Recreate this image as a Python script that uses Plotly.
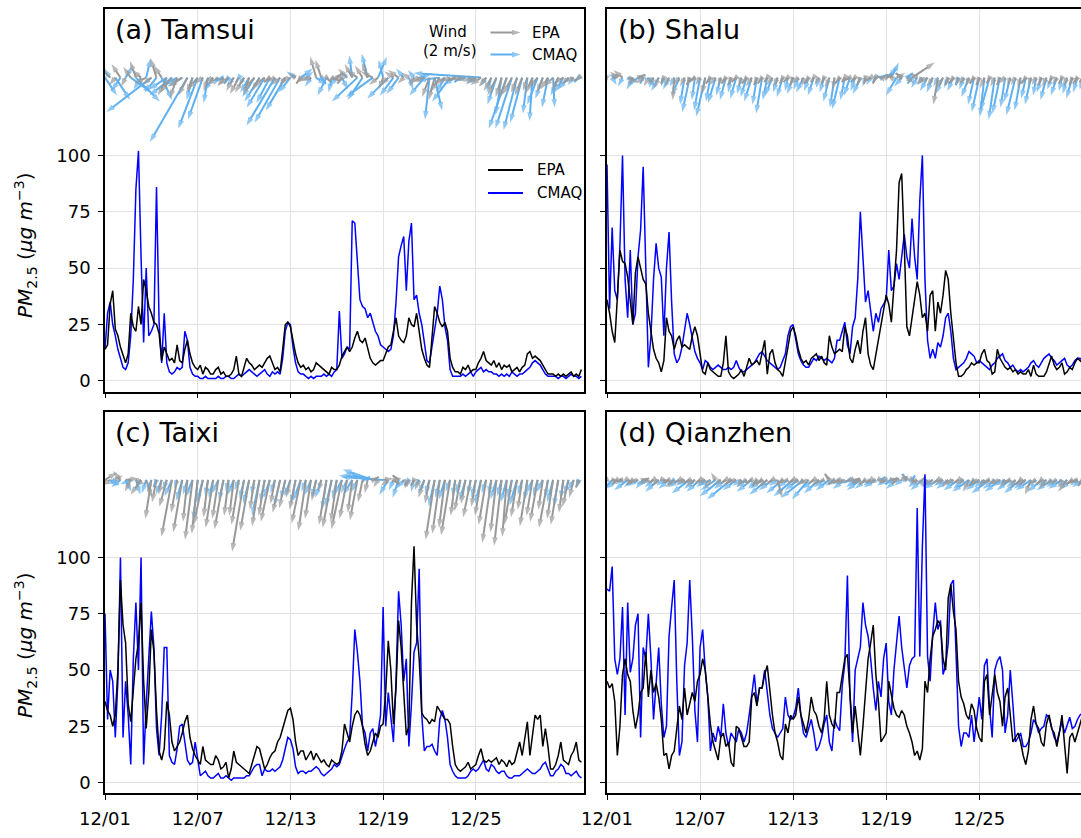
import numpy as np
import pandas as pd
import plotly.graph_objects as go

W, H = 1081, 838
FONT = "DejaVu Sans"
START = pd.Timestamp("2019-12-01")

# ---------------- PM2.5 (ug m-3), every 4 hours from 12/01 00:00 ----------------
TAMSUI_EPA = [
    14, 16, 34, 40, 23, 20, 15, 11, 8, 12, 30, 24, 22, 33, 25, 45, 40, 33,
    30, 26, 25, 21, 9, 15, 12, 9, 10, 8, 16, 9, 8, 14, 18, 12, 8, 6,
    5, 7, 3, 6, 5, 3, 3, 5, 6, 3, 4, 2, 2, 3, 5, 11, 3, 2,
    6, 10, 8, 7, 5, 6, 7, 6, 8, 10, 11, 8, 5, 6, 4, 14, 25, 26,
    24, 18, 12, 8, 6, 7, 5, 6, 4, 5, 8, 7, 6, 5, 4, 3, 6, 5,
    5, 7, 11, 13, 15, 13, 15, 19, 22, 18, 17, 19, 14, 10, 8, 7, 8, 9,
    9, 12, 15, 16, 22, 28, 20, 18, 17, 20, 28, 25, 24, 30, 22, 14, 10, 7,
    6, 20, 33, 30, 26, 24, 26, 22, 10, 6, 4, 4, 3, 6, 5, 7, 4, 5,
    5, 8, 10, 13, 9, 8, 7, 9, 6, 8, 5, 7, 6, 7, 4, 5, 6, 4,
    6, 7, 12, 13, 10, 11, 10, 9, 7, 5, 3, 3, 3, 2, 3, 2, 3, 2,
    3, 4, 2, 3, 2, 5]
TAMSUI_CMAQ = [
    14, 30, 35, 25, 20, 14, 10, 6, 5, 8, 20, 45, 85, 102, 55, 17, 50, 20,
    22, 25, 86, 26, 8, 30, 8, 4, 3, 4, 6, 5, 6, 22, 18, 6, 3, 2,
    2, 1, 1, 2, 1, 1, 1, 1, 2, 1, 1, 2, 2, 1, 1, 2, 3, 2,
    3, 4, 5, 4, 3, 2, 3, 4, 5, 3, 2, 4, 3, 4, 3, 10, 22, 26,
    25, 15, 8, 4, 3, 3, 2, 1, 2, 1, 2, 2, 2, 3, 2, 3, 2, 4,
    5, 31, 10, 12, 15, 14, 71, 70, 55, 36, 33, 32, 28, 30, 26, 22, 20, 16,
    15, 14, 13, 14, 20, 35, 55, 60, 64, 40, 62, 70, 36, 38, 30, 25, 18, 9,
    8, 15, 22, 30, 42, 36, 24, 18, 5, 2, 2, 2, 2, 3, 2, 3, 4, 2,
    4, 5, 6, 4, 5, 4, 4, 3, 3, 2, 3, 2, 3, 2, 4, 3, 2, 3,
    3, 4, 5, 6, 8, 9, 8, 7, 5, 3, 2, 2, 2, 2, 1, 2, 2, 1,
    2, 3, 2, 2, 1, 2]
SHALU_EPA = [
    36, 30, 22, 17, 37, 58, 53, 52, 46, 36, 25, 48, 55, 50, 45, 43, 30, 22,
    14, 10, 8, 4, 9, 28, 22, 20, 14, 18, 20, 15, 16, 15, 14, 20, 24, 20,
    12, 4, 3, 8, 5, 4, 3, 2, 2, 8, 20, 4, 2, 1, 2, 3, 5, 2,
    6, 10, 7, 8, 9, 7, 12, 18, 3, 12, 14, 8, 5, 4, 2, 8, 15, 22,
    24, 20, 14, 10, 8, 9, 7, 10, 11, 12, 9, 11, 8, 7, 20, 15, 12, 13,
    14, 13, 24, 20, 10, 8, 14, 18, 12, 22, 28, 12, 7, 5, 12, 18, 24, 32,
    38, 34, 26, 42, 58, 88, 92, 60, 24, 20, 28, 36, 44, 38, 28, 30, 22, 38,
    40, 22, 35, 30, 38, 49, 45, 30, 18, 8, 2, 2, 3, 5, 6, 8, 7, 8,
    8, 12, 14, 9, 8, 3, 4, 14, 10, 8, 6, 5, 6, 4, 5, 3, 4, 3,
    3, 5, 2, 7, 3, 2, 2, 2, 4, 8, 11, 7, 5, 6, 8, 3, 4, 6,
    5, 8, 10, 9, 8, 7]
SHALU_CMAQ = [
    96, 32, 68, 40, 36, 60, 100, 45, 28, 58, 25, 30, 55, 67, 95, 45, 6, 20,
    45, 61, 50, 46, 20, 50, 66, 35, 12, 8, 10, 15, 22, 30, 25, 18, 13, 10,
    8, 5, 9, 8, 6, 5, 6, 7, 6, 5, 5, 6, 5, 6, 9, 6, 4, 4,
    5, 6, 7, 8, 10, 12, 13, 11, 9, 8, 7, 6, 5, 6, 9, 12, 20, 24,
    25, 18, 12, 9, 7, 6, 6, 8, 10, 9, 11, 10, 9, 10, 9, 8, 10, 18,
    18, 22, 26, 16, 12, 24, 28, 45, 75, 55, 35, 40, 32, 22, 30, 26, 32, 34,
    36, 58, 40, 42, 52, 45, 55, 65, 55, 50, 72, 55, 45, 80, 100, 45, 18, 10,
    14, 10, 17, 15, 20, 28, 30, 22, 10, 5, 6, 7, 8, 10, 13, 12, 11, 8,
    9, 8, 7, 6, 5, 7, 8, 10, 11, 12, 9, 8, 6, 7, 5, 4, 5, 4,
    5, 6, 8, 9, 7, 6, 8, 10, 11, 12, 10, 9, 7, 8, 9, 10, 7, 6,
    7, 9, 10, 10, 9, 9]
TAIXI_EPA = [
    36, 32, 30, 25, 30, 50, 90, 70, 62, 35, 27, 40, 55, 62, 80, 45, 24, 40,
    68, 58, 32, 14, 10, 15, 36, 30, 18, 14, 16, 18, 22, 27, 30, 20, 15, 12,
    10, 8, 16, 10, 9, 8, 8, 12, 10, 6, 7, 9, 2, 6, 14, 9, 8, 7,
    6, 5, 4, 8, 12, 16, 15, 10, 6, 8, 11, 13, 14, 18, 20, 24, 28, 32,
    33, 28, 18, 12, 14, 14, 10, 12, 14, 10, 13, 11, 9, 10, 8, 7, 10, 9,
    8, 9, 14, 26, 22, 18, 25, 30, 32, 30, 25, 17, 12, 14, 18, 22, 20, 25,
    26, 40, 63, 50, 26, 42, 72, 60, 40, 21, 25, 80, 105, 70, 55, 31, 29, 28,
    26, 28, 27, 34, 32, 30, 28, 28, 26, 16, 8, 6, 5, 6, 7, 9, 6, 7,
    8, 12, 15, 10, 9, 10, 9, 10, 11, 8, 10, 9, 7, 10, 8, 9, 14, 18,
    12, 20, 27, 12, 22, 30, 28, 30, 16, 24, 16, 6, 6, 8, 12, 18, 10, 9,
    8, 12, 14, 18, 10, 9]
TAIXI_CMAQ = [
    75, 28, 50, 45, 20, 45, 100, 20, 45, 30, 8, 55, 80, 50, 100, 8, 35, 55,
    76, 60, 24, 12, 30, 60, 60, 12, 9, 8, 15, 25, 26, 18, 10, 8, 9, 18,
    10, 3, 4, 5, 3, 2, 2, 3, 4, 2, 2, 3, 2, 1, 2, 2, 2, 2,
    2, 3, 3, 5, 7, 8, 8, 3, 6, 5, 5, 6, 5, 6, 7, 10, 15, 20,
    19, 15, 7, 4, 5, 5, 4, 5, 5, 6, 7, 6, 4, 3, 4, 5, 6, 8,
    7, 8, 12, 15, 18, 20, 40, 68, 58, 45, 25, 22, 14, 22, 24, 16, 22, 30,
    78, 25, 40, 28, 18, 45, 85, 70, 45, 55, 16, 35, 58, 62, 95, 30, 14, 16,
    16, 17, 14, 12, 28, 32, 28, 20, 8, 5, 3, 2, 2, 2, 2, 3, 5, 6,
    5, 6, 8, 10, 6, 5, 8, 7, 5, 4, 5, 5, 3, 2, 2, 3, 3, 3,
    4, 5, 6, 5, 4, 4, 5, 6, 8, 9, 6, 3, 3, 5, 6, 8, 7, 4,
    4, 3, 4, 5, 3, 2]
QIANZHEN_EPA = [
    45, 42, 44, 36, 12, 25, 48, 55, 48, 45, 32, 24, 30, 40, 42, 58, 38, 50,
    40, 44, 38, 28, 12, 13, 6, 12, 14, 24, 34, 28, 42, 30, 35, 40, 36, 45,
    48, 55, 50, 38, 26, 18, 14, 10, 20, 22, 16, 18, 9, 7, 25, 24, 20, 16,
    16, 18, 38, 40, 34, 42, 42, 48, 52, 40, 30, 22, 18, 12, 10, 26, 22, 30,
    28, 30, 38, 30, 26, 22, 28, 38, 32, 30, 25, 22, 28, 45, 30, 26, 24, 40,
    40, 47, 55, 57, 38, 22, 34, 24, 12, 25, 40, 55, 62, 70, 48, 36, 18, 20,
    22, 45, 38, 33, 30, 29, 32, 30, 25, 22, 18, 12, 14, 10, 15, 45, 40, 55,
    65, 68, 72, 70, 55, 50, 82, 88, 76, 68, 45, 38, 35, 30, 28, 35, 32, 24,
    20, 18, 45, 48, 30, 40, 48, 40, 36, 25, 38, 42, 28, 18, 20, 22, 18, 12,
    8, 14, 28, 34, 26, 24, 18, 16, 26, 30, 24, 22, 16, 22, 30, 18, 4, 20,
    22, 18, 22, 26, 30, 32]
QIANZHEN_CMAQ = [
    86, 85, 96, 55, 48, 55, 78, 30, 80, 49, 55, 70, 75, 20, 60, 55, 75, 55,
    28, 45, 60, 35, 20, 25, 65, 78, 90, 45, 12, 18, 52, 62, 90, 65, 32, 18,
    60, 68, 50, 38, 14, 22, 18, 25, 20, 35, 22, 16, 22, 20, 18, 24, 22, 18,
    22, 30, 40, 48, 35, 42, 42, 50, 40, 30, 24, 22, 20, 22, 24, 38, 30, 28,
    29, 33, 42, 30, 22, 20, 24, 28, 22, 14, 16, 20, 26, 30, 18, 14, 28, 25,
    23, 43, 53, 92, 38, 18, 50, 55, 60, 80, 70, 65, 55, 42, 32, 45, 38, 55,
    62, 36, 30, 50, 64, 74, 60, 50, 42, 52, 55, 56, 122, 56, 105, 137, 56, 45,
    66, 80, 68, 72, 48, 52, 62, 88, 90, 58, 25, 16, 22, 22, 20, 30, 18, 28,
    38, 28, 52, 55, 33, 20, 50, 54, 56, 50, 22, 30, 50, 35, 18, 20, 22, 16,
    16, 18, 22, 28, 26, 22, 24, 25, 30, 29, 24, 20, 18, 22, 27, 22, 26, 29,
    24, 25, 28, 30, 31, 32]

# ---------------- wind (m/s), every 8 hours from 12/01 00:00 ----------------
TAMSUI_EPA_U = [-0.5, -0.8, -0.4, -0.6, -0.3, -0.5, -0.4, -0.6, -0.8, -0.6, -0.4, -0.5, -0.6, -0.8, -0.5, -0.9, -0.6, -0.4, -0.7, -0.5, -0.3, -0.6, -0.8, -0.4, -0.7, -0.5, -0.6, -0.6, -0.4, -0.7, -0.5, -0.8, -0.4, -0.5, -0.6, -0.4, -0.7, -0.5, -0.3, -0.5, -0.6, -0.4, -0.4, 0.3, 0.5, 0.4, -0.3, -0.6, -0.5, -0.7, -0.5, -0.4, -0.8, -0.6, -0.3, -0.5, -0.6, -0.7, -0.4, -0.5, -0.3, -0.6, -0.8, -0.5, -0.4, -0.7, -0.8, -0.6, -0.5, -0.6, -0.7, -0.5, -0.6, -0.7, -0.5, -0.5, -0.6, -0.4, -0.5, -0.6, -0.4, -0.5, -0.3, -0.5, -0.6, -0.4, -0.5, -0.6, -0.4, -0.7, -0.5, -0.6, -0.3]
TAMSUI_EPA_V = [1.0, 0.8, -0.5, 0.9, -0.6, 0.7, 1.1, 0.5, -0.4, -0.5, 1.3, 0.8, -1.2, -1.0, -1.4, -0.6, -1.2, -1.0, -0.8, -0.4, -0.9, -0.3, -0.5, -0.6, -0.5, -0.9, -1.1, -1.0, -1.2, -0.8, -0.9, -0.6, -0.3, -0.3, -0.5, -0.6, -0.2, 0.3, -0.4, -0.3, -0.2, 1.4, 1.2, -0.3, -0.2, 0.3, -0.4, 0.6, 0.9, 0.5, 0.8, 1.0, 0.4, -0.5, -0.8, -0.5, 0.4, 0.5, -0.4, 0.3, -0.6, -0.2, -0.3, -1.3, -1.5, -1.0, -0.5, -0.3, -0.2, -0.1, -0.2, -0.3, -0.4, -0.5, -0.6, -0.9, -1.2, -1.3, -1.4, -1.1, -1.0, -1.2, -0.9, -1.1, -0.7, -1.0, -0.8, -0.6, -0.9, -0.4, -0.5, -0.3, -0.2]
TAMSUI_CMAQ_U = [0.8, -0.4, 1.0, -0.6, 0.5, 1.4, 1.6, -0.5, 0.3, -3.0, -0.8, 0.7, -1.2, -1.5, -0.9, -1.0, -2.5, -0.4, -1.3, -1.0, -0.3, -0.6, -0.3, -0.5, -0.3, -0.5, -0.2, -0.4, -0.6, -0.8, -1.0, -1.2, -0.9, -1.9, -1.7, -1.3, -0.8, -0.6, 0.8, 0.5, -0.4, 0.7, 0.3, -0.6, -0.2, -0.5, 0.4, -0.5, -0.2, -1.7, -1.0, -0.4, -1.8, 0.6, -0.3, -1.4, -0.9, -0.8, -0.5, 0.3, -0.4, 0.9, -1.0, -0.3, 0.5, -1.5, -0.6, -1.2, -0.8, -0.4, -0.6, -0.3, -0.5, -4.5, -0.4, -0.3, -0.6, -0.4, -1.2, -1.1, -0.9, -0.8, -0.3, -0.2, -0.7, -0.5, -0.4, 0.1, -0.5, -0.6, -0.7, -0.4, -0.3]
TAMSUI_CMAQ_V = [-1.2, 0.6, -1.5, -0.9, 0.8, -1.0, -1.6, -0.8, 1.3, -2.3, -1.0, -1.5, -0.8, -1.2, -0.5, -0.6, -4.3, -1.5, -3.4, -2.8, -1.7, -0.9, -0.5, -0.2, -0.4, -0.6, -0.3, -0.6, -1.0, -1.3, -1.6, -2.0, -1.7, -3.2, -3.0, -2.2, -1.0, 0.4, 0.6, 0.4, -0.6, -0.5, -0.4, -1.2, -1.0, -0.6, -0.8, 0.4, 1.5, -1.6, -1.5, 1.6, -1.3, 1.4, 1.2, -1.4, -1.2, -1.1, 0.6, -0.8, 0.5, 0.3, -1.2, -2.8, -2.2, -0.2, -1.0, -1.6, -0.5, -0.3, -0.2, -0.5, -0.4, 0.3, -0.6, -1.0, -1.8, -2.5, -3.4, -3.4, -3.5, -3.0, -2.4, -2.9, -1.8, -1.4, -2.0, -2.0, -1.2, -1.0, -0.8, -0.5, -0.3]
SHALU_EPA_U = [-0.4, 0.6, -0.5, -0.6, 0.7, -0.3, 0.5, -0.5, -0.3, -0.4, -0.3, -0.2, -0.3, -0.1, -0.4, -0.3, -0.2, -0.4, -0.3, -0.2, -0.3, -0.4, -0.2, -0.3, -0.2, -0.3, -0.2, -0.3, -0.4, -0.2, -0.3, -0.2, -0.4, -0.3, -0.2, -0.3, -0.2, -0.4, -0.1, -0.3, -0.2, -0.3, -0.2, -0.3, -0.1, -0.3, -0.2, -0.4, -0.3, -0.2, -0.1, -0.3, -0.2, -0.3, 0.4, -0.3, 0.6, -0.4, 0.5, 1.5, -0.5, -0.4, -0.6, -0.4, -0.3, -0.5, -0.2, -0.3, -0.2, -0.3, -0.2, -0.3, -0.2, -0.3, -0.2, -0.3, -0.2, -0.4, -0.2, -0.3, -0.2, -0.3, -0.2, -0.3, -0.2, -0.3, -0.2, -0.3, -0.2, -0.3, -0.2, -0.3, -0.2]
SHALU_EPA_V = [0.3, 0.2, 0.4, 0.5, -0.3, -0.5, 0.2, -0.4, -0.6, -0.5, -0.7, -0.4, -0.6, -1.5, -0.5, -0.6, -0.5, -0.3, -0.5, -1.1, -0.4, -0.5, -0.6, -0.4, -0.5, -0.3, -0.6, -0.4, -0.6, -0.5, -0.4, -0.3, -0.5, -0.6, -0.4, -0.3, -0.5, -0.4, -0.6, -0.4, -0.3, -0.5, -0.4, -0.7, -0.8, -0.4, -0.3, -0.2, -0.3, -0.5, -0.4, -0.2, -0.4, 0.1, 0.2, 0.2, 0.3, 0.3, -0.4, 1.0, 0.3, -0.5, -0.4, -0.6, -1.8, -0.7, -0.5, -0.4, -0.6, -0.5, -0.6, -0.4, -0.5, -0.7, -0.4, -0.6, -0.5, -0.4, -0.6, -0.5, -0.7, -0.4, -0.6, -0.5, -0.5, -0.6, -0.4, -0.5, -0.4, -0.6, -0.5, -0.4, -0.3]
SHALU_CMAQ_U = [-0.5, 0.3, -0.6, -0.3, 0.5, -0.4, -0.6, -0.2, 0.4, -0.3, -0.5, -0.2, -0.4, -0.3, -0.5, -0.3, -0.5, -0.2, -0.4, -0.6, -0.3, -0.5, -0.3, -0.4, -0.2, -0.4, -0.3, -0.4, -0.5, -0.3, -0.4, -0.3, -0.5, -0.3, -0.4, -0.2, -0.4, -0.3, -0.5, -0.3, -0.4, -0.2, -0.3, -0.4, -0.3, -0.5, -0.3, -0.4, -0.3, -0.5, -0.2, -0.3, -0.2, 0.4, 0.8, 0.5, -0.7, -0.5, 0.4, -0.3, -0.4, -0.3, -0.5, -0.4, -0.3, -0.5, -0.3, -0.4, -0.2, -0.3, -0.5, -0.4, -0.5, -0.3, -0.6, -0.4, -0.5, -0.3, -0.4, -0.6, -0.4, -0.3, -0.4, -0.2, -0.3, -0.4, -0.3, -0.4, -0.2, -0.3, -0.4, -0.3, -0.2]
SHALU_CMAQ_V = [-0.3, -0.5, 0.2, -0.6, -0.3, -0.8, -0.5, -0.4, -0.6, -0.7, -0.9, -0.6, -0.8, -0.6, -1.2, -1.8, -2.3, -1.5, -2.2, -2.6, -1.6, -1.7, -1.2, -1.5, -1.0, -1.4, -1.1, -1.3, -1.6, -1.8, -2.4, -1.5, -1.2, -1.0, -1.3, -0.9, -1.1, -0.8, -1.0, -0.9, -1.2, -0.7, -1.0, -1.6, -2.0, -2.1, -1.5, -1.2, -0.9, -1.1, -0.6, -0.5, -0.3, 0.2, 0.7, 1.0, -1.2, -0.6, 0.3, -0.4, -0.7, -0.5, -0.9, -1.0, -0.6, -1.1, -0.7, -0.9, -0.5, -0.8, -1.3, -1.8, -2.3, -2.6, -2.2, -2.8, -2.4, -2.0, -1.6, -2.5, -2.2, -1.4, -1.8, -1.2, -1.0, -1.5, -0.8, -1.2, -0.9, -1.1, -1.4, -1.0, -0.8]
TAIXI_EPA_U = [0.8, -0.6, 0.5, -0.5, 0.9, -0.4, 0.6, -0.7, 0.4, -0.4, -0.3, -0.2, -0.5, -0.7, -0.4, -0.6, -0.3, -0.5, -0.4, -0.6, -0.3, -0.5, -0.4, -0.6, -0.3, -0.3, -0.5, -0.8, -0.6, -0.3, -0.5, -0.4, -0.6, -0.3, -0.5, -0.4, -0.3, -0.4, -0.6, -0.5, -0.4, -0.3, -0.2, -0.5, -0.6, -0.4, -0.7, -0.5, -0.3, -0.5, -0.3, -0.2, 0.4, -0.3, 0.7, -0.5, 0.4, -0.4, 0.3, -0.3, -0.2, -0.3, -0.4, -0.3, -0.6, -0.5, -0.4, -0.6, -0.3, -0.4, -0.3, -0.5, -0.3, -0.4, -0.5, -0.6, -0.4, -0.5, -0.3, -0.5, -0.4, -0.3, -0.5, -0.4, -0.5, -0.3, -0.6, -0.4, -0.5, -0.3, -0.4, -0.3, -0.2]
TAIXI_EPA_V = [0.5, -0.4, 0.3, 0.6, 0.1, -0.8, -0.3, -1.0, -1.2, -2.6, -1.5, -1.0, -1.8, -3.8, -2.2, -3.5, -2.8, -4.0, -3.6, -3.0, -2.5, -3.2, -2.6, -3.3, -2.4, -2.4, -3.0, -4.8, -3.4, -2.0, -3.1, -2.4, -2.8, -1.6, -2.2, -1.9, -1.2, -2.0, -2.9, -3.4, -2.6, -1.4, -0.8, -3.0, -3.2, -2.8, -3.3, -2.6, -2.2, -2.7, -1.5, -0.9, 0.2, -0.5, 0.1, -0.4, -0.3, 0.3, -0.5, -0.6, -0.4, -0.7, -1.2, -1.6, -4.0, -3.6, -3.2, -3.7, -2.4, -2.1, -1.6, -2.5, -1.8, -2.4, -3.0, -4.2, -3.5, -4.4, -3.8, -3.0, -2.5, -2.0, -3.1, -2.4, -2.8, -2.0, -3.2, -2.6, -3.0, -2.2, -1.8, -1.2, -0.6]
TAIXI_CMAQ_U = [-0.8, 0.6, -0.5, -0.6, 0.4, -0.7, 0.3, -0.4, -0.3, -0.3, -0.2, -0.4, -0.3, -0.5, -0.2, -0.4, -0.3, -0.5, -0.3, -0.4, -0.2, -0.3, -0.4, -0.3, -0.2, -0.4, -0.3, -0.3, -0.4, -0.2, -0.5, -0.3, -0.4, -0.3, -0.4, -0.3, -0.4, -0.3, -0.5, -0.3, -0.4, -0.3, -0.4, -0.3, -0.4, -0.3, -0.5, -0.4, -0.6, -0.4, 0.5, -1.5, -2.0, -2.6, -2.8, -0.6, -0.3, -0.4, -0.5, -0.3, -0.2, -0.3, -0.4, -0.3, -0.4, -0.3, -0.4, -0.3, -0.2, -0.3, -0.4, -0.2, -0.3, -0.4, -0.3, -0.2, -0.4, -0.3, -0.4, -0.3, -0.5, -0.3, -0.2, -0.4, -0.3, -0.4, -0.2, -0.4, -0.3, -0.2, -0.3, -0.4, -0.2]
TAIXI_CMAQ_V = [-0.6, -0.4, -0.3, -0.5, -0.8, -0.3, -1.0, -0.6, -0.9, -0.8, -0.5, -1.0, -0.7, -1.1, -0.6, -1.4, -1.0, -1.2, -2.7, -1.5, -1.1, -1.2, -0.9, -1.4, -0.8, -1.0, -0.7, -1.3, -1.6, -1.0, -2.4, -1.5, -1.2, -0.9, -1.8, -1.3, -1.1, -1.6, -1.4, -0.8, -1.0, -1.2, -1.2, -2.0, -1.8, -1.3, -1.0, -0.9, -1.0, -0.8, 0.2, 0.5, 0.7, 0.3, 0.2, -1.0, -0.7, -1.2, -0.6, -0.4, -0.8, -0.5, -0.9, -1.0, -1.8, -1.2, -1.3, -0.8, -1.1, -0.9, -1.4, -1.0, -1.2, -1.6, -0.9, -1.0, -1.3, -1.1, -1.5, -1.2, -1.7, -1.0, -1.4, -0.9, -1.1, -0.8, -1.2, -1.5, -1.8, -1.3, -1.0, -0.7, -0.5]
QIANZHEN_EPA_U = [-0.4, 0.5, -0.3, -0.5, 0.3, -0.4, -0.6, 0.4, -0.5, -0.3, -0.5, 0.3, -0.4, -0.6, -0.3, -0.5, -0.4, -0.6, -0.3, -0.5, -0.4, -0.3, -0.5, -0.3, -0.4, -0.6, -0.3, -0.5, -0.4, -0.3, -0.4, -0.6, -0.3, 0.3, -0.4, -0.5, -0.3, -0.5, -0.4, -0.6, -0.3, -0.5, -0.5, -0.3, -0.4, -0.4, -0.6, -0.3, 0.3, -0.5, -0.4, -0.3, -0.5, 0.3, -0.4, 0.5, -0.3, 0.5, -0.4, 0.3, -0.5, 0.2, -0.4, -0.6, -0.3, -0.5, -0.4, -0.6, -0.3, -0.5, -0.4, -0.3, -0.6, -0.4, -0.5, -0.4, -0.6, -0.3, -0.5, -0.4, -0.3, -0.6, -0.4, -0.5, -0.3, -0.5, -0.4, -0.5, -0.3, -0.6, -0.4, -0.5, -0.3]
QIANZHEN_EPA_V = [-0.2, -0.1, -0.3, -0.1, -0.2, -0.3, -0.2, 0.1, -0.3, -0.2, -0.4, -0.1, -0.2, -0.5, -0.2, -0.3, -0.2, -0.4, -0.2, -0.3, -0.6, 0.5, -0.4, -0.2, -0.3, -0.2, -0.5, -0.3, -0.2, -0.4, -0.3, -0.5, -0.2, -1.2, -0.3, -0.2, -0.2, -0.3, -0.4, -0.3, -0.2, -0.4, -0.2, 0.4, -0.3, -0.2, -0.3, -0.1, 0.1, -0.2, -0.3, -0.2, -0.3, -0.1, -0.2, 0.1, -0.3, 0.3, 0.4, -0.2, -0.3, 0.2, -0.5, -0.4, -0.2, -0.3, -0.5, -0.3, -0.2, -0.3, -0.8, -0.4, -0.3, -0.5, -0.2, -0.4, -0.3, -0.5, -0.2, -0.6, -0.3, -0.4, -1.0, -0.3, -0.3, -0.6, -0.4, -0.3, -0.5, -0.8, -0.3, -0.2, -0.4]
QIANZHEN_CMAQ_U = [-0.6, -1.0, -0.8, -0.5, -0.9, -0.6, -0.7, -0.5, -0.8, -0.6, -0.9, -0.5, -0.7, -0.4, -0.8, -0.6, -1.2, -0.7, -0.9, -0.6, -0.8, -1.0, -1.4, -0.8, -1.6, -0.9, -0.6, -0.7, -1.0, -0.6, -0.8, -1.2, -0.9, -0.6, -1.1, -0.7, -1.3, -0.9, -1.5, -1.1, -0.8, -1.0, -0.7, -0.9, -0.6, -0.5, -0.8, -0.4, -0.6, -0.9, -0.7, -0.5, -0.8, 0.3, -0.6, -0.4, -0.7, -0.5, -0.3, 0.2, -0.6, -0.8, -0.5, -0.7, -0.9, -0.6, -0.8, -0.5, -1.0, -0.7, -1.1, -0.6, -0.9, -0.7, -1.2, -0.8, -1.0, -0.7, -0.9, -0.6, -1.1, -0.8, -1.0, -0.7, -0.9, -0.6, -1.0, -0.7, -0.9, -0.6, -0.8, -0.5, -0.7]
QIANZHEN_CMAQ_V = [-0.4, -1.1, -0.6, -0.3, -0.7, -0.5, -0.4, -0.6, -0.3, -0.5, -0.8, -0.4, -0.6, -0.3, -0.5, -0.4, -0.9, -0.6, -0.8, -0.5, -0.4, -0.7, -1.1, -0.6, -1.3, -0.7, -0.4, -0.5, -0.8, -0.6, -0.6, -1.0, -0.7, -0.4, -0.9, -0.5, -1.1, -0.7, -1.2, -1.3, -0.6, -0.9, -0.5, -0.7, -0.4, -0.3, -0.6, -0.2, -0.5, -0.7, -0.6, -0.4, -0.5, 0.2, -0.4, -0.3, -0.6, -0.4, 0.4, 0.3, -0.5, -0.7, -0.4, -0.5, -0.6, -0.4, -0.6, -0.4, -0.7, -0.6, -0.8, -0.5, -0.7, -0.5, -0.9, -0.6, -0.8, -0.4, -0.7, -0.5, -0.9, -0.6, -0.7, -0.5, -0.8, -0.4, -0.7, -0.5, -0.6, -0.5, -0.6, -0.4, -0.5]

STATIONS = ["(a) Tamsui", "(b) Shalu", "(c) Taixi", "(d) Qianzhen"]
PM_EPA = [TAMSUI_EPA, SHALU_EPA, TAIXI_EPA, QIANZHEN_EPA]
PM_CMAQ = [TAMSUI_CMAQ, SHALU_CMAQ, TAIXI_CMAQ, QIANZHEN_CMAQ]
WIND_EPA = [(TAMSUI_EPA_U, TAMSUI_EPA_V), (SHALU_EPA_U, SHALU_EPA_V),
            (TAIXI_EPA_U, TAIXI_EPA_V), (QIANZHEN_EPA_U, QIANZHEN_EPA_V)]
WIND_CMAQ = [(TAMSUI_CMAQ_U, TAMSUI_CMAQ_V), (SHALU_CMAQ_U, SHALU_CMAQ_V),
             (TAIXI_CMAQ_U, TAIXI_CMAQ_V), (QIANZHEN_CMAQ_U, QIANZHEN_CMAQ_V)]
TICK_DATES = ["2019-12-01", "2019-12-07", "2019-12-13", "2019-12-19", "2019-12-25"]

for s in PM_EPA + PM_CMAQ:
    assert len(s) == 186, len(s)
for u, v in WIND_EPA + WIND_CMAQ:
    assert len(u) == 93 and len(v) == 93, (len(u), len(v))

pm_times = START + pd.to_timedelta(np.arange(186) * 4, unit="h")
wind_times = START + pd.to_timedelta(np.arange(93) * 8, unit="h")

# ---------------- styling ----------------
C_EPA_LINE, C_CMAQ_LINE = "black", "#0000ff"
C_EPA_WIND, C_CMAQ_WIND = "#999999", "#5fb0f0"
GRID = "#e2e2e2"
Y_RANGE = [-4.8, 164.8]
ARROW_BASE = 134.5      # axis level where the wind arrows start
DAYS_PER_MS = 0.97      # horizontal arrow extent per 1 m/s (days)
UNITS_PER_MS = 6.65     # vertical arrow extent per 1 m/s (axis units)


def quiver(times, u, v, base, color, xa, ya):
    xs, ys, sizes = [], [], []
    for t, uu, vv in zip(times, u, v):
        xs += [t, t + pd.Timedelta(days=uu * DAYS_PER_MS), None]
        ys += [base, base + vv * UNITS_PER_MS, None]
        sizes += [0, 9, 0]
    return go.Scatter(
        x=xs, y=ys, xaxis=xa, yaxis=ya, mode="lines+markers",
        line=dict(color=color, width=2),
        marker=dict(symbol="arrow", angleref="previous", size=sizes,
                    color=color, line=dict(width=0)),
        hoverinfo="skip", showlegend=False)


def px_x(p):
    return p / W


def px_y(p):
    return 1 - p / H


fig = go.Figure()
axis_ids = [("x", "y"), ("x2", "y2"), ("x3", "y3"), ("x4", "y4")]
for i, (xa, ya) in enumerate(axis_ids):
    (ue, ve), (uc, vc) = WIND_EPA[i], WIND_CMAQ[i]
    fig.add_trace(quiver(wind_times, uc, vc, ARROW_BASE, C_CMAQ_WIND, xa, ya))
    fig.add_trace(quiver(wind_times, ue, ve, ARROW_BASE, C_EPA_WIND, xa, ya))
    fig.add_trace(go.Scatter(x=pm_times, y=PM_CMAQ[i], xaxis=xa, yaxis=ya, mode="lines",
                             line=dict(color=C_CMAQ_LINE, width=1.5), showlegend=False))
    fig.add_trace(go.Scatter(x=pm_times, y=PM_EPA[i], xaxis=xa, yaxis=ya, mode="lines",
                             line=dict(color=C_EPA_LINE, width=1.5), showlegend=False))

# wind key arrows (2 m/s) in panel (a)
key_t = [START + pd.Timedelta(days=24.95)]
fig.add_trace(quiver(key_t, [2.0], [0.0], 154.5, C_EPA_WIND, "x", "y"))
fig.add_trace(quiver(key_t, [2.0], [0.0], 144.7, C_CMAQ_WIND, "x", "y"))

X_DOM = {"l": [105 / W, 584 / W], "r": [607 / W, 1.0]}
Y_DOM = {"t": [px_y(391.7), px_y(9.3)], "b": [px_y(793.3), px_y(411.7)]}
X_END = {"l": 31.0, "r": 30.56}

tickfont = dict(family=FONT, size=18, color="black")


def xaxis(col, row, anchor):
    return dict(domain=X_DOM[col], anchor=anchor, type="date", automargin=False,
                range=[START, START + pd.Timedelta(days=X_END[col])],
                tickmode="array", tickvals=TICK_DATES, tickformat="%m/%d",
                showticklabels=(row == "b"), ticks="outside", ticklen=5,
                tickwidth=1.2, tickcolor="black", showgrid=True,
                gridcolor=GRID, gridwidth=1.2, showline=True, linecolor="black",
                linewidth=1.5, mirror=True, zeroline=False, tickfont=tickfont,
                ticklabelstandoff=3)


def yaxis(col, row, anchor):
    return dict(domain=Y_DOM[row], anchor=anchor, range=Y_RANGE, automargin=False,
                tickvals=[0, 25, 50, 75, 100], showticklabels=(col == "l"),
                ticks="outside", ticklen=5, tickwidth=1.2, tickcolor="black",
                showgrid=True, gridcolor=GRID, gridwidth=1.2, showline=True,
                linecolor="black", linewidth=1.5, mirror=(col == "l"),
                zeroline=False, tickfont=tickfont, ticklabelstandoff=4)


layout = dict(
    width=W, height=H, margin=dict(l=0, r=0, t=0, b=0, autoexpand=False),
    paper_bgcolor="white", plot_bgcolor="white", showlegend=False,
    xaxis=xaxis("l", "t", "y"), yaxis=yaxis("l", "t", "x"),
    xaxis2=xaxis("r", "t", "y2"), yaxis2=yaxis("r", "t", "x2"),
    xaxis3=xaxis("l", "b", "y3"), yaxis3=yaxis("l", "b", "x3"),
    xaxis4=xaxis("r", "b", "y4"), yaxis4=yaxis("r", "b", "x4"),
)


def text(t, x, y, size, xanchor="left", angle=0):
    return dict(text=t, x=px_x(x), y=px_y(y), xref="paper", yref="paper",
                xanchor=xanchor, yanchor="middle", showarrow=False,
                textangle=angle, font=dict(family=FONT, size=size, color="black"))


ylabel = "<i>PM</i><sub>2.5</sub> (<i>μg m</i><sup>−3</sup>)"
annotations = [
    text(STATIONS[0], 113, 30, 27), text(STATIONS[1], 616, 30, 27),
    text(STATIONS[2], 113, 432, 27), text(STATIONS[3], 616, 432, 27),
    text(ylabel, 25, 246, 20, xanchor="center", angle=-90),
    text(ylabel, 25, 646, 20, xanchor="center", angle=-90),
    text("Wind", 448, 32, 15, xanchor="center"),
    text("(2 m/s)", 450, 51, 15, xanchor="center"),
    text("EPA", 530, 33, 15), text("CMAQ", 530, 55, 15),
    text("EPA", 535, 170, 15), text("CMAQ", 535, 193, 15),
]
shapes = [
    dict(type="line", xref="paper", yref="paper", x0=px_x(488), x1=px_x(523),
         y0=px_y(170), y1=px_y(170), line=dict(color=C_EPA_LINE, width=2.2)),
    dict(type="line", xref="paper", yref="paper", x0=px_x(488), x1=px_x(523),
         y0=px_y(193), y1=px_y(193), line=dict(color=C_CMAQ_LINE, width=2.2)),
]
layout["annotations"] = annotations
layout["shapes"] = shapes
fig.update_layout(**layout)

fig.write_html("out.html")
